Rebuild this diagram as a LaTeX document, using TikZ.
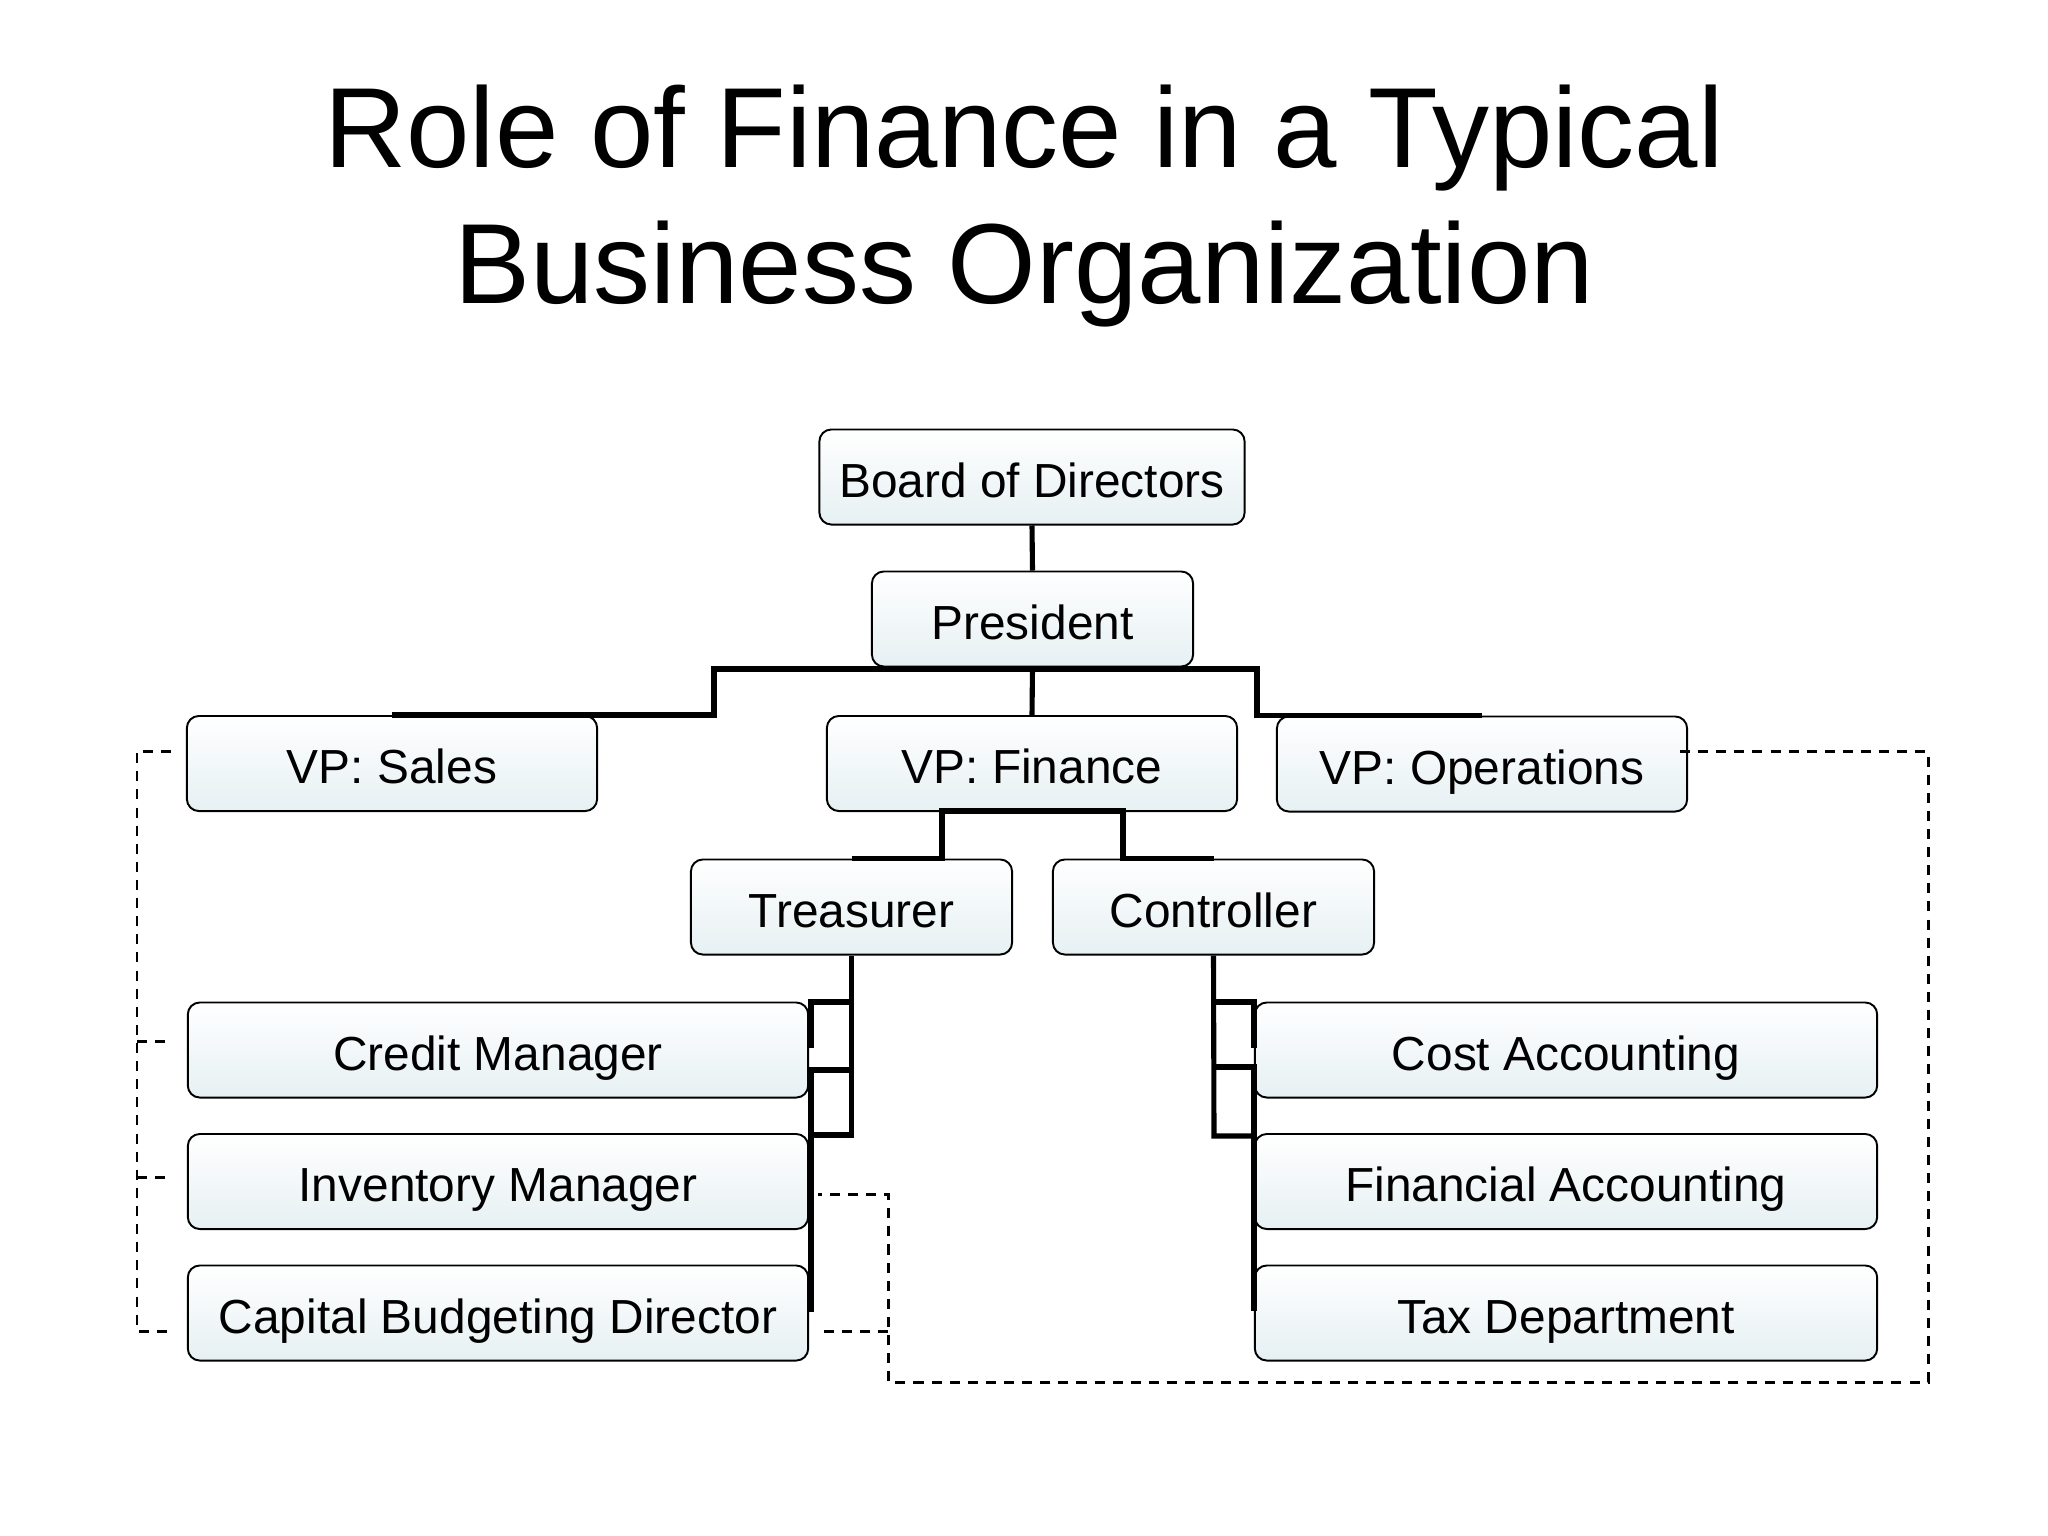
\documentclass[tikz,border=0pt]{standalone}
\usepackage{fontspec}
\setmainfont{Liberation Sans}
\usetikzlibrary{calc}
\definecolor{boxbot}{RGB}{230,240,243}
\begin{document}
\begin{tikzpicture}[x=0.01cm,y=-0.01cm,
  orgbox/.style={draw=black, line width=0.55pt, rounded corners=3.4pt,
    top color=white, bottom color=boxbot, minimum height=0.95cm, inner sep=0pt,
    font=\fontsize{13.6pt}{16pt}\selectfont, text height=11.5pt, text depth=0pt},
  conn/.style={draw=black, line width=1.45pt},
  dashline/.style={draw=black, line width=0.85pt, dash pattern=on 2.85pt off 2.3pt},
  titletext/.style={anchor=base, inner sep=0pt, font=\fontsize{32.4pt}{38.7pt}\selectfont}]
\useasboundingbox[fill=white] (0,0) rectangle (2048,1536);

% title
\node[titletext] (title1) at (1024,167) {Role of Finance in a Typical};
\node[titletext] (title2) at (1024,303) {Business Organization};

% boxes
\node[orgbox, minimum width=4.25cm] (board) at (1032,477) {Board of Directors};
\node[orgbox, minimum width=3.21cm] (pres) at (1032.5,619) {President};
\node[orgbox, minimum width=4.10cm] (vps) at (392,763.5) {VP: Sales};
\node[orgbox, minimum width=4.10cm] (vpf) at (1032,763.5) {VP: Finance};
\node[orgbox, minimum width=4.10cm] (vpo) at (1482,764) {VP: Operations};
\node[orgbox, minimum width=3.21cm] (tre) at (851.5,907) {Treasurer};
\node[orgbox, minimum width=3.21cm] (con) at (1213.5,907) {Controller};
\node[orgbox, minimum width=6.20cm] (cm) at (498,1050) {Credit Manager};
\node[orgbox, minimum width=6.20cm] (im) at (498,1181.5) {Inventory Manager};
\node[orgbox, minimum width=6.20cm] (cbd) at (498,1313) {Capital Budgeting Director};
\node[orgbox, minimum width=6.22cm] (ca) at (1566,1050) {Cost Accounting};
\node[orgbox, minimum width=6.22cm] (fa) at (1566,1181.5) {Financial Accounting};
\node[orgbox, minimum width=6.22cm] (td) at (1566,1313) {Tax Department};

% top-level connectors
\draw[conn] (board.south) -- (pres.north);
\coordinate (busL) at (714,669);
\coordinate (busR) at (1257,669);
\draw[conn] (vps.north) -| (busL) -- (busR) |- (vpo.north);
\draw[conn] (pres.south) -- (vpf.north);

% VP Finance to Treasurer / Controller
\coordinate (fbL) at (942,811);
\coordinate (fbR) at (1123,811);
\draw[conn] (tre.north) -| (fbL) -- (fbR) |- (con.north);

% Treasurer to its reports
\coordinate (t1) at (851.5,1002);
\coordinate (t2) at (851.5,1070);
\coordinate (t3) at (851.5,1135);
\coordinate (tl1) at (811,1002);
\coordinate (tl1b) at (811,1048);
\coordinate (tl2) at (811,1070);
\coordinate (tl3) at (811,1135);
\coordinate (tlend) at (811,1312);
\draw[conn] (tre.south) -- (t3) -- (tl3);
\draw[conn] (t1) -- (tl1) -- (tl1b);
\draw[conn] (t2) -- (tl2) -- (tlend);

% Controller to its reports
\coordinate (c1) at (1214,1002);
\coordinate (c2) at (1214,1067);
\coordinate (c3) at (1214,1136);
\coordinate (cr1) at (1254,1002);
\coordinate (cr1b) at (1254,1048);
\coordinate (cr2) at (1254,1067);
\coordinate (cr3) at (1254,1136);
\coordinate (crend) at (1254,1311);
\draw[conn] (con.south) -- (c3) -- (cr3);
\draw[conn] (c1) -- (cr1) -- (cr1b);
\draw[conn] (c2) -- (cr2) -- (crend);

% dashed links, left
\coordinate (ds0) at (171,751);
\coordinate (dv0) at (137,751);
\coordinate (ds1) at (171,1041);
\coordinate (dv1) at (137,1041);
\coordinate (ds2) at (171,1177);
\coordinate (dv2) at (137,1177);
\coordinate (ds3) at (171,1331);
\coordinate (dv3) at (137,1331);
\draw[dashline] (ds0) -- (dv0) -- (dv3) -- (ds3);
\draw[dashline] (dv1) -- (ds1);
\draw[dashline] (dv2) -- (ds2);

% dashed links, right
\coordinate (do0) at (1680,751);
\coordinate (do1) at (1928,751);
\coordinate (do2) at (1928,1382);
\coordinate (do3) at (888,1382);
\coordinate (do4) at (888,1194);
\coordinate (dim) at (818,1194);
\coordinate (do5) at (888,1331);
\coordinate (dcb) at (818,1331);
\draw[dashline] (do0) -- (do1) -- (do2) -- (do3) -- (do4) -- (dim);
\draw[dashline] (do5) -- (dcb);
\end{tikzpicture}
\end{document}
